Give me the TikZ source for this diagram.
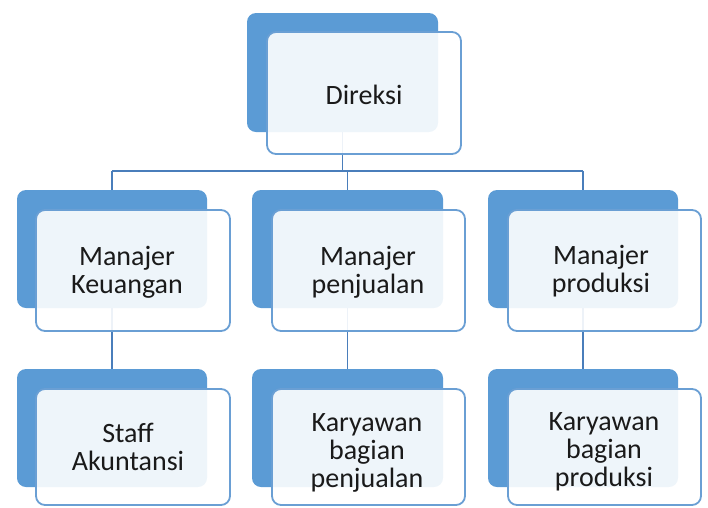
\documentclass[tikz,border=0pt]{standalone}
\usepackage{fontspec}
\setmainfont{Carlito}
\definecolor{backblue}{HTML}{5B9BD5}
\definecolor{edgeblue}{HTML}{6A9FD4}
\definecolor{linkblue}{HTML}{4A7EBB}
\definecolor{txt}{HTML}{1A1A1A}
\tikzset{
  backbox/.style={fill=backblue, draw=none, rounded corners=9pt},
  frontbox/.style={fill=white, fill opacity=0.9, draw=edgeblue, line width=1.8pt, rounded corners=9pt},
  label/.style={text=txt, align=center, font=\fontsize{28}{28}\selectfont, inner sep=0pt},
  link/.style={draw=linkblue, line width=1.8pt}
}
\begin{document}
\begin{tikzpicture}[x=1pt,y=-1pt]
\useasboundingbox (0,0) rectangle (708,507);
% back boxes (named coordinates for connectors)
\newcommand{\unit}[9]{%
  % #1 name, #2-#5 back l,t,r,b ; #6-#9 front l,t,r,b
  \coordinate (#1bt) at ({(#2+#4)/2},#3);
  \coordinate (#1bb) at ({(#2+#4)/2},#5);
}
\unit{d}{247}{13}{438}{132}{267}{32}{461}{154}
\unit{m1}{17}{190}{207}{308}{36}{210}{230}{331}
\unit{m2}{252}{190}{443}{308}{272}{210}{465}{331}
\unit{m3}{488}{190}{678}{308}{508}{210}{701}{331}
\unit{s1}{17}{369}{207}{487}{36}{389}{230}{505}
\unit{s2}{252}{369}{443}{487}{272}{389}{465}{505}
\unit{s3}{488}{369}{678}{487}{508}{389}{701}{505}
% connectors
\coordinate (bus) at (0,171);
\draw[link] (dbb) -- (dbb |- bus);
\draw[link] (m1bt |- bus) -- (m3bt |- bus);
\draw[link] (m1bt |- bus) -- (m1bt);
\draw[link] (m2bt |- bus) -- (m2bt);
\draw[link] (m3bt |- bus) -- (m3bt);
\draw[link] (m1bb) -- (s1bt);
\draw[link] (m2bb) -- (s2bt);
\draw[link] (m3bb) -- (s3bt);
% boxes
\path[backbox] (247,13) rectangle (438,132);
\path[frontbox] (267,32) rectangle (461,154);
\path[backbox] (17,190) rectangle (207,308);
\path[frontbox] (36,210) rectangle (230,331);
\path[backbox] (252,190) rectangle (443,308);
\path[frontbox] (272,210) rectangle (465,331);
\path[backbox] (488,190) rectangle (678,308);
\path[frontbox] (508,210) rectangle (701,331);
\path[backbox] (17,369) rectangle (207,487);
\path[frontbox] (36,389) rectangle (230,505);
\path[backbox] (252,369) rectangle (443,487);
\path[frontbox] (272,389) rectangle (465,505);
\path[backbox] (488,369) rectangle (678,487);
\path[frontbox] (508,389) rectangle (701,505);
% labels
\node[label] (tdir) at (364,95) {Direksi};
\node[label] (tm1) at (127,272) {Manajer\\Keuangan};
\node[label] (tm2) at (368,272) {Manajer\\penjualan};
\node[label] (tm3) at (601,271) {Manajer\\produksi};
\node[label] (ts1) at (128,447) {Staff\\Akuntansi};
\node[label] (ts2) at (367,453) {Karyawan\\bagian\\penjualan};
\node[label] (ts3) at (604,452) {Karyawan\\bagian\\produksi};
\end{tikzpicture}
\end{document}
